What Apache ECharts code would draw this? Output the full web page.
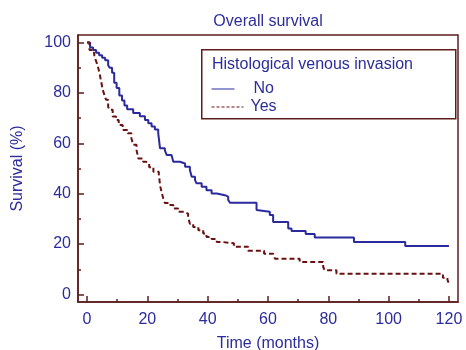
<!DOCTYPE html>
<html>
<head>
<meta charset="utf-8">
<script src="https://cdn.jsdelivr.net/npm/echarts@6/dist/echarts.min.js"></script>
<style>
  html, body { margin: 0; padding: 0; background: #fff; }
  #chart { width: 466px; height: 350px; }
</style>
</head>
<body>
<div id="chart"></div>
<script>
// Kaplan-Meier steps
const monthsNo = [0, 1, 2, 3, 4, 5, 6, 7, 7.5, 8.3, 9, 9.8, 10.7, 11.6, 12.4, 13.3, 15.3, 17.5, 19.2, 20.3, 21.4, 22.5, 23.6, 24.2, 25.8, 26.4, 28, 28.6, 30.8, 32.5, 34.1, 34.7, 35.8, 36.3, 38, 39.6, 41.3, 43, 45.7, 46.8, 47.4, 56.2, 56.7, 60.6, 61.7, 66.7, 67.8, 72.5, 75.5, 88.5, 105.5, 120];
const survivalNo = [100, 98, 97, 96, 95, 94, 93, 91, 90, 88, 84, 82, 79, 77, 75, 73.5, 72, 70.7, 69.3, 68, 66.7, 65.5, 64, 58, 57.2, 55.4, 54.7, 52.7, 52, 50.7, 49.4, 46.7, 45.4, 44.1, 42.8, 41.4, 40.1, 39.4, 38.8, 37.5, 36.4, 33.5, 32.8, 31.5, 28.8, 26.2, 25.2, 24, 22.6, 20.8, 19.2, 19.2];

const monthsYes = [0, 0.8, 1.5, 2.4, 3, 3.5, 4.1, 4.6, 5.2, 5.8, 6.3, 7, 7.4, 8.5, 9.6, 10.5, 11.8, 13.5, 14.7, 15.3, 16.4, 17, 18.6, 19.5, 20.6, 22, 23.8, 24.3, 24.8, 25.3, 25.8, 27.5, 28.6, 30.2, 31.9, 33.5, 34.1, 35.2, 36.9, 38.5, 39.6, 41.3, 43, 45, 48.7, 53.4, 58.7, 61.7, 62.3, 70.5, 78.3, 78.8, 82.7, 118, 119.5, 120];
const survivalYes = [100, 97, 96, 94.5, 92.6, 91, 88, 85, 81.3, 79, 77.3, 74.5, 73.3, 70.6, 69.3, 67.3, 65.3, 64, 62, 59.4, 57.4, 54, 52.7, 52, 50.5, 48.7, 47.5, 42.8, 40.1, 38.1, 36.3, 35.5, 34.1, 32.8, 32.1, 30.8, 28.1, 26.8, 25.5, 24.2, 22.8, 22, 20.8, 20.3, 18.9, 17.3, 16.2, 15.5, 14.2, 12.9, 10.9, 9.6, 8.2, 6.6, 5.8, 4.3];

const xMajor = [0, 20, 40, 60, 80, 100, 120];
const xMinor = [10, 30, 50, 70, 90, 110];
const yMajor = [0, 20, 40, 60, 80, 100];
const yMinor = [10, 30, 50, 70, 90];

const axisColor = "#5e1c1c";
const textBlue = "#2c2c9c";
const lineBlue = "#2a2a9e";
const lineRed = "#6a1212";
const font = "Liberation Sans";
const fs = 16;

const chart = echarts.init(document.getElementById("chart"));

const xBase = {
  type: "value",
  min: -3,
  max: 123,
  position: "bottom",
  splitLine: { show: false },
};
const yBase = {
  type: "value",
  min: -3,
  max: 103,
  position: "left",
  splitLine: { show: false },
};

chart.setOption({
  animation: false,
  title: {
    text: "Overall survival",
    left: 263,
    top: 9,
    textAlign: "center",
    textStyle: { color: textBlue, fontFamily: font, fontSize: fs, fontWeight: "normal" },
  },
  grid: {
    left: 78,
    right: 8,
    top: 35,
    bottom: 48,
    outerBoundsMode: "none",
    containLabel: false,
    show: true,
    borderColor: axisColor,
    borderWidth: 1.5,
    backgroundColor: "transparent",
  },
  xAxis: [
    {
      ...xBase,
      name: "Time (months)",
      nameLocation: "middle",
      nameGap: 34,
      nameTextStyle: { color: textBlue, fontFamily: font, fontSize: fs },
      axisLine: { onZero: false, lineStyle: { color: axisColor, width: 1.5 } },
      axisTick: { inside: true, length: 6, customValues: xMajor, lineStyle: { color: axisColor, width: 1.5 } },
      axisLabel: { customValues: xMajor, margin: 10, color: textBlue, fontFamily: font, fontSize: fs },
    },
    {
      ...xBase,
      axisLine: { show: false, onZero: false },
      axisTick: { inside: true, length: 3, customValues: xMinor, lineStyle: { color: axisColor, width: 1.5 } },
      axisLabel: { show: false },
    },
  ],
  yAxis: [
    {
      ...yBase,
      name: "Survival (%)",
      nameLocation: "middle",
      nameGap: 52,
      nameTextStyle: { color: textBlue, fontFamily: font, fontSize: fs },
      axisLine: { onZero: false, lineStyle: { color: axisColor, width: 1.5 } },
      axisTick: { inside: true, length: 6, customValues: yMajor, lineStyle: { color: axisColor, width: 1.5 } },
      axisLabel: { customValues: yMajor, margin: 7, color: textBlue, fontFamily: font, fontSize: fs },
    },
    {
      ...yBase,
      axisLine: { show: false, onZero: false },
      axisTick: { inside: true, length: 3, customValues: yMinor, lineStyle: { color: axisColor, width: 1.5 } },
      axisLabel: { show: false },
    },
  ],
  graphic: [
    {
      type: "rect",
      left: 201,
      top: 49,
      shape: { width: 254, height: 69 },
      style: { fill: "#fff", stroke: axisColor, lineWidth: 1.5 },
      z: 10,
    },
    {
      type: "text",
      left: 212,
      top: 57,
      style: { text: "Histological venous invasion", fill: textBlue, font: fs + "px " + font },
      z: 11,
    },
  ],
  legend: [
    {
      data: ["No"],
      orient: "vertical",
      left: 206,
      top: 76,
      itemWidth: 23,
      itemHeight: 10,
      z: 12,
      lineStyle: { width: 1 },
      itemStyle: { color: "transparent", borderWidth: 0 },
      textStyle: { color: textBlue, fontFamily: font, fontSize: fs, padding: [0, 0, 0, 14] },
    },
    {
      data: ["Yes"],
      orient: "vertical",
      left: 206,
      top: 94,
      itemWidth: 32,
      itemHeight: 10,
      z: 12,
      lineStyle: { width: 1, type: [3, 2] },
      itemStyle: { color: "transparent", borderWidth: 0 },
      textStyle: { color: textBlue, fontFamily: font, fontSize: fs, padding: [0, 0, 0, 2] },
    },
  ],
  series: [
    {
      name: "No",
      type: "line",
      step: "end",
      symbol: "none",
      xAxisIndex: 0,
      yAxisIndex: 0,
      lineStyle: { color: lineBlue, width: 2 },
      itemStyle: { color: lineBlue },
      data: monthsNo.map((m, i) => [m, survivalNo[i]]),
    },
    {
      name: "Yes",
      type: "line",
      step: "end",
      symbol: "none",
      xAxisIndex: 0,
      yAxisIndex: 0,
      lineStyle: { color: lineRed, width: 2, type: [5, 3] },
      itemStyle: { color: lineRed },
      data: monthsYes.map((m, i) => [m, survivalYes[i]]),
    },
  ],
});
</script>
</body>
</html>
